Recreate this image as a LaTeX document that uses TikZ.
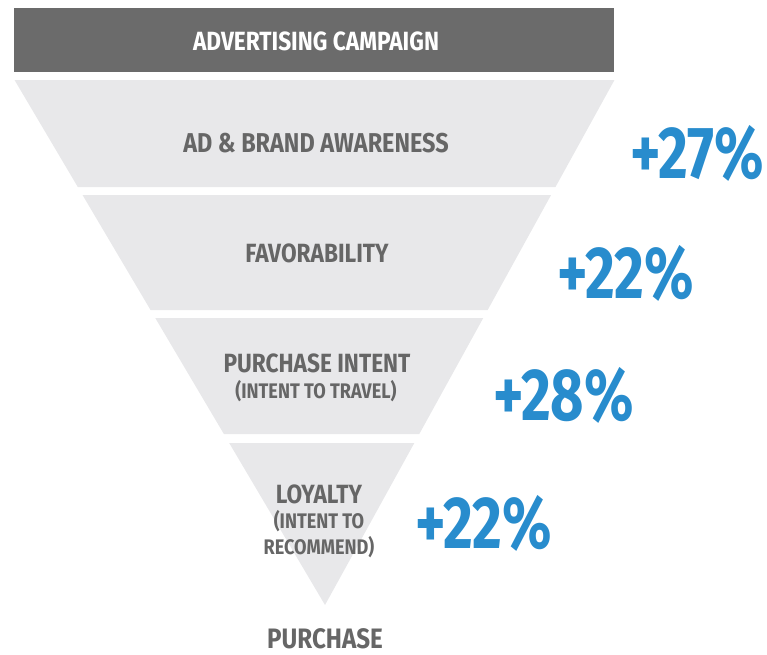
\documentclass[tikz,border=0pt]{standalone}
\usepackage{fontspec}
\setmainfont{Fira Sans}
\newfontfamily\narrowfont[FakeStretch=0.86]{Fira Sans}
\newfontfamily\liftfont[FakeStretch=0.78]{Fira Sans}
\usetikzlibrary{positioning,calc}
\definecolor{headgray}{RGB}{107,107,107}
\definecolor{bandgray}{RGB}{232,232,234}
\definecolor{labelgray}{RGB}{102,102,102}
\definecolor{liftblue}{RGB}{40,140,205}

\tikzset{
  band/.style={fill=bandgray},
  stage/.style={anchor=base,inner sep=0,text=labelgray,align=center,
    font=\narrowfont\bfseries\fontsize{15}{15}\selectfont},
  substage/.style={stage,font=\narrowfont\bfseries\fontsize{12}{14.5}\selectfont},
  lift/.style={anchor=base west,inner sep=0,text=liftblue,
    font=\liftfont\bfseries\fontsize{42}{42}\selectfont}
}

\begin{document}
\begin{tikzpicture}[x=0.02cm,y=-0.02cm]
\useasboundingbox (0,0) rectangle (767,654);
% campaign bar
\fill[headgray] (14,8) rectangle (614,72);
\node[stage,text=white] (campaign) at (316,50) {ADVERTISING CAMPAIGN};
% funnel bands, apex at (325,605), half width 300 at the top
\foreach \t/\b in {80/187, 195/310, 318/434, 443/605} {
    \fill[band] ({314.5+0.02*(\t-80)-0.5714*(605-\t)},\t)
        -- ({314.5+0.02*(\t-80)+0.5714*(605-\t)},\t)
        -- ({314.5+0.02*(\b-80)+0.5714*(605-\b)},\b)
        -- ({314.5+0.02*(\b-80)-0.5714*(605-\b)},\b) -- cycle;
}
\node[stage,font=\narrowfont\bfseries\fontsize{15.5}{15.5}\selectfont] (awareness) at (316,152) {AD \& BRAND AWARENESS};
\node[stage] (favor) at (317,262) {FAVORABILITY};
\node[stage] (intent) at (317,372) {PURCHASE INTENT};
\node[substage] (travel) at (316,398) {(INTENT TO TRAVEL)};
\node[stage] (loyalty) at (319,503) {LOYALTY};
\node[substage] (recommend) at (319,554) {(INTENT TO\\RECOMMEND)};
\node[stage,font=\narrowfont\bfseries\fontsize{16}{16}\selectfont] (purchase) at (325,648) {PURCHASE};
% lift values
\node[lift] (lift1) at (630,178) {+27\%};
\node[lift] (lift2) at (557,298) {+22\%};
\node[lift] (lift3) at (493,420) {+28\%};
\node[lift] (lift4) at (415,548) {+22\%};
\end{tikzpicture}
\end{document}
